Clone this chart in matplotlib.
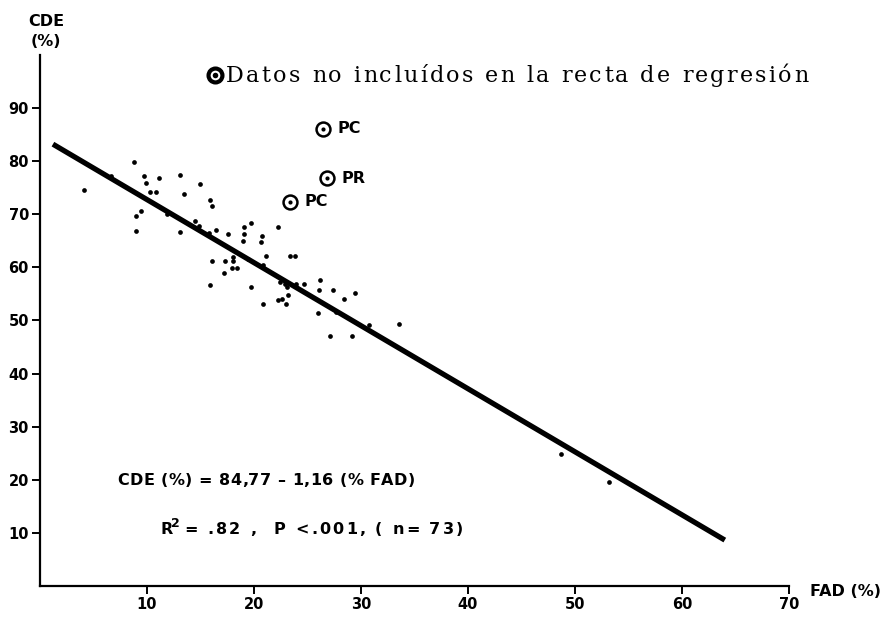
import matplotlib
matplotlib.use("Agg")
import matplotlib.pyplot as plt

# Regression data points (FAD %, CDE %)
fad = [4.08, 6.68, 8.81, 9.72, 9.93, 11.09, 10.31, 10.81, 13.04, 13.49,
       14.91, 15.93, 16.03, 9.41, 8.93, 9.00, 11.85, 13.07, 14.49, 14.86,
       15.77, 16.45, 17.54, 19.04, 19.04, 19.00, 19.72, 20.72, 20.65, 22.21,
       16.03, 17.32, 18.04, 18.04, 17.24, 17.94, 18.44, 19.46, 21.09, 20.87,
       23.41, 23.83, 15.86, 19.72, 20.84, 22.40, 22.93, 23.11, 23.15, 23.95,
       24.67, 22.21, 22.64, 22.99, 26.20, 26.05, 27.38, 28.44, 29.41, 25.98,
       27.71, 27.07, 29.19, 30.79, 33.58, 48.69, 53.18]
cde = [74.65, 77.29, 79.81, 77.32, 75.97, 76.91, 74.21, 74.21, 77.50, 73.84,
       75.76, 72.71, 71.63, 70.70, 69.69, 66.86, 70.01, 66.58, 68.80, 67.71,
       66.54, 67.05, 66.30, 67.56, 66.30, 64.92, 68.28, 65.92, 64.79, 67.56,
       61.17, 61.17, 61.90, 61.15, 58.94, 59.83, 59.83, 61.55, 62.09, 60.51,
       62.15, 62.15, 56.59, 56.25, 53.04, 57.25, 56.81, 56.25, 54.74, 56.87,
       56.87, 53.80, 53.99, 53.04, 57.57, 55.68, 55.74, 54.04, 55.23, 51.40,
       51.59, 47.13, 47.13, 49.14, 49.33, 24.77, 19.49]

# Excluded points
excl_fad = [26.48, 26.85, 23.39]
excl_cde = [86.1, 76.8, 72.4]
excl_lab = ["PC", "PR", "PC"]

# Regression line end points
reg_x = [1.21, 64.0]
reg_y = [83.23, 8.6]

xticks = [10, 20, 30, 40, 50, 60, 70]
yticks = [10, 20, 30, 40, 50, 60, 70, 80, 90]

legend_text = "Datos no incluídos en la recta de regresión"
eq_text = "CDE (%) = 84,77 \u2013 1,16 (% FAD)"
r2_text = "= .82 ,  P <.001, ( n= 73)"

sans = ["DejaVu Sans"]
serif = ["DejaVu Serif"]

W, H = 891, 621
fig = plt.figure(figsize=(W / 100, H / 100), dpi=100)
renderer = fig.canvas.get_renderer()


def tracked(px, py, s, total_width, **kw):
    """Draw string s starting at pixel (px, baseline py from top), spread to total_width px."""
    def width(t):
        tt = fig.text(0, 0, "|" + t + "|", **kw)
        w = tt.get_window_extent(renderer).width
        tt.remove()
        return w
    w0 = width("")
    char_w = [width(ch) - w0 for ch in s]
    adv = [0.0]
    for cw in char_w:
        adv.append(adv[-1] + cw)
    natural = adv[-1]
    track = (total_width - natural) / max(len(s) - 1, 1)
    for i, ch in enumerate(s):
        if ch == " ":
            continue
        fig.text((px + adv[i] + i * track) / W, 1 - py / H, ch,
                 ha="left", va="baseline", **kw)


ax = fig.add_axes([40 / W, 35.3 / H, 749 / W, 530.5 / H])
ax.set_xlim(0, 70)
ax.set_ylim(0, 100)
for s in ["top", "right"]:
    ax.spines[s].set_visible(False)
for s in ["left", "bottom"]:
    ax.spines[s].set_linewidth(1.6)

ax.plot(reg_x, reg_y, color="black", lw=3.8, solid_capstyle="butt")
ax.plot(fad, cde, "o", color="black", ms=3.4, mew=0)
ax.plot(excl_fad, excl_cde, "o", mfc="white", mec="black", ms=10, mew=1.8)
ax.plot(excl_fad, excl_cde, "o", color="black", ms=3, mew=0)
for x, y, t in zip(excl_fad, excl_cde, excl_lab):
    ax.annotate(t, (x, y), xytext=(10, 0), textcoords="offset points",
                va="center", ha="left", fontsize=11.5, fontweight="bold",
                family=sans)

ax.set_xticks(xticks)
ax.set_yticks(yticks)
ax.set_xticklabels([str(v) for v in xticks], fontsize=10.5, fontweight="bold", family=sans)
ax.set_yticklabels([str(v) for v in yticks], fontsize=10.5, fontweight="bold", family=sans)
ax.tick_params(axis="both", direction="out", length=6, width=1.4, pad=2)

fig.text(46 / W, 1 - 22 / H, "CDE", ha="center", va="center",
         fontsize=11.5, fontweight="bold", family=sans)
fig.text(46 / W, 1 - 42 / H, "(%)", ha="center", va="center",
         fontsize=11.5, fontweight="bold", family=sans)
fig.text(810 / W, 1 - 592 / H, "FAD (%)", ha="left", va="center",
         fontsize=11.5, fontweight="bold", family=sans)

# Legend marker and text
fig.lines.append(plt.Line2D([215 / W], [1 - 75 / H], transform=fig.transFigure,
                            marker="o", mfc="white", mec="black", ms=10, mew=3.0))
fig.lines.append(plt.Line2D([215 / W], [1 - 75 / H], transform=fig.transFigure,
                            marker="o", color="black", ms=4, mew=0))
tracked(226, 82, legend_text, 582, fontsize=16, family=serif)

tracked(117, 485, eq_text, 298, fontsize=11.5, fontweight="bold", family=sans)

# R^2 line
fig.text(160 / W, 1 - 534 / H, "R", ha="left", va="baseline",
         fontsize=11.5, fontweight="bold", family=sans)
fig.text(171 / W, 1 - 544 / H + 0.028, "2", ha="left", va="baseline",
         fontsize=9, fontweight="bold", family=sans)
tracked(184, 534, r2_text, 279, fontsize=11.5, fontweight="bold", family=sans)

fig.savefig("out.png", dpi=100)
